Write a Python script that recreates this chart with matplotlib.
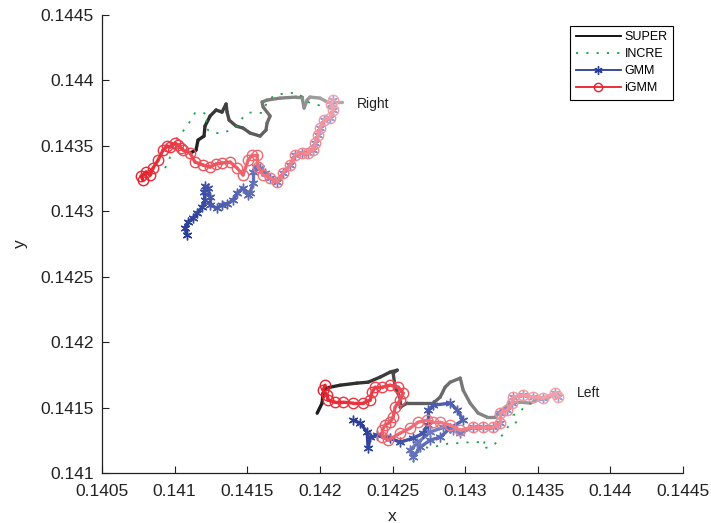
import numpy as np
import matplotlib
matplotlib.use("Agg")
import matplotlib.pyplot as plt
from matplotlib.lines import Line2D
from matplotlib.ticker import FormatStrFormatter

plt.rcParams['font.family'] = ['Liberation Sans', 'DejaVu Sans']

# ---------------- data ----------------
# Upper trajectory ("Right")
super_r_x = [0.141106, 0.141147, 0.141161, 0.141202, 0.141209, 0.141244, 0.141285, 0.141326, 0.141354, 0.141361,
             0.141375, 0.141423, 0.141471, 0.141519, 0.141588, 0.141629, 0.141636, 0.141657, 0.141609, 0.141602,
             0.141636, 0.141726, 0.141836, 0.141877, 0.141891, 0.141912, 0.141932, 0.142001, 0.142050, 0.142112, 0.142153]
super_r_y = [0.143445, 0.143468, 0.143544, 0.143575, 0.143651, 0.143728, 0.143774, 0.143758, 0.143820, 0.143758,
             0.143697, 0.143651, 0.143636, 0.143598, 0.143575, 0.143621, 0.143674, 0.143728, 0.143797, 0.143835,
             0.143850, 0.143865, 0.143873, 0.143873, 0.143789, 0.143850, 0.143873, 0.143865, 0.143835, 0.143835, 0.143835]

incre_r_x = [0.140934, 0.140955, 0.140968, 0.140996, 0.141017, 0.141051, 0.141085, 0.141113, 0.141140, 0.141189,
             0.141230, 0.141216, 0.141209, 0.141244, 0.141292, 0.141333, 0.141382, 0.141430, 0.141471, 0.141506,
             0.141540, 0.141602, 0.141643, 0.141691, 0.141774, 0.141850, 0.141898, 0.141932, 0.141988, 0.142050, 0.142091]
incre_r_y = [0.143330, 0.143376, 0.143414, 0.143491, 0.143560, 0.143606, 0.143644, 0.143705, 0.143751, 0.143758,
             0.143735, 0.143682, 0.143644, 0.143606, 0.143598, 0.143598, 0.143621, 0.143651, 0.143720, 0.143751,
             0.143758, 0.143751, 0.143850, 0.143888, 0.143904, 0.143904, 0.143850, 0.143827, 0.143812, 0.143789, 0.143804]

igmm_r_x = [0.140782, 0.140769, 0.140803, 0.140831, 0.140851, 0.140886, 0.140920, 0.140948, 0.140968, 0.141003,
            0.141023, 0.141044, 0.141058, 0.141106, 0.141140, 0.141196, 0.141244, 0.141285, 0.141326, 0.141382,
            0.141430, 0.141471, 0.141506, 0.141533, 0.141567, 0.141574, 0.141609, 0.141657, 0.141705, 0.141747,
            0.141795, 0.141829, 0.141877, 0.141919, 0.141953, 0.141967, 0.141988, 0.142001, 0.142029, 0.142070,
            0.142091, 0.142077, 0.142091]
igmm_r_y = [0.143239, 0.143269, 0.143300, 0.143277, 0.143330, 0.143391, 0.143468, 0.143499, 0.143491, 0.143521,
            0.143506, 0.143483, 0.143468, 0.143445, 0.143376, 0.143353, 0.143338, 0.143361, 0.143369, 0.143376,
            0.143330, 0.143277, 0.143391, 0.143430, 0.143430, 0.143338, 0.143277, 0.143254, 0.143223, 0.143292,
            0.143353, 0.143430, 0.143445, 0.143445, 0.143468, 0.143521, 0.143583, 0.143636, 0.143697, 0.143713,
            0.143774, 0.143820, 0.143850]

gmm_r_x = [0.141085, 0.141072, 0.141092, 0.141127, 0.141154, 0.141189, 0.141209, 0.141202, 0.141209, 0.141230,
           0.141244, 0.141244, 0.141292, 0.141326, 0.141361, 0.141402, 0.141430, 0.141471, 0.141506, 0.141519,
           0.141540, 0.141540, 0.141561, 0.141588, 0.141623, 0.141657, 0.141705, 0.141747, 0.141795, 0.141829,
           0.141877, 0.141919, 0.141953, 0.141967, 0.141988, 0.142001, 0.142029, 0.142070, 0.142091, 0.142077, 0.142091]
gmm_r_y = [0.142818, 0.142872, 0.142917, 0.142948, 0.142986, 0.143032, 0.143086, 0.143147, 0.143193, 0.143177,
           0.143109, 0.143047, 0.143025, 0.143047, 0.143055, 0.143086, 0.143139, 0.143177, 0.143124, 0.143139,
           0.143216, 0.143300, 0.143338, 0.143330, 0.143292, 0.143254, 0.143223, 0.143292, 0.143353, 0.143430,
           0.143445, 0.143445, 0.143468, 0.143521, 0.143583, 0.143636, 0.143697, 0.143713, 0.143774, 0.143820, 0.143850]

# Lower trajectory ("Left")
super_l_x = [0.141981, 0.142015, 0.142022, 0.142036, 0.142139, 0.142256, 0.142332, 0.142415, 0.142483, 0.142532,
             0.142504, 0.142518, 0.142552, 0.142552, 0.142601, 0.142690, 0.142780, 0.142828, 0.142862, 0.142897,
             0.142966, 0.142986, 0.143034, 0.143090, 0.143151, 0.143207, 0.143227, 0.143310, 0.143379, 0.143448,
             0.143496, 0.143565, 0.143606, 0.143654]
super_l_y = [0.141457, 0.141534, 0.141610, 0.141648, 0.141671, 0.141687, 0.141694, 0.141733, 0.141771, 0.141786,
             0.141763, 0.141656, 0.141572, 0.141503, 0.141534, 0.141534, 0.141534, 0.141580, 0.141656, 0.141694,
             0.141725, 0.141633, 0.141534, 0.141457, 0.141427, 0.141427, 0.141457, 0.141534, 0.141541, 0.141534,
             0.141557, 0.141572, 0.141595, 0.141595]

incre_l_x = [0.142642, 0.142676, 0.142725, 0.142759, 0.142828, 0.142897, 0.142966, 0.143034, 0.143103, 0.143138,
             0.143117, 0.143172, 0.143220, 0.143255, 0.143289, 0.143310, 0.143358, 0.143331, 0.143379, 0.143399,
             0.143448, 0.143482]
incre_l_y = [0.141083, 0.141159, 0.141197, 0.141190, 0.141213, 0.141228, 0.141228, 0.141236, 0.141236, 0.141251,
             0.141190, 0.141197, 0.141236, 0.141289, 0.141343, 0.141381, 0.141388, 0.141442, 0.141465, 0.141496,
             0.141534, 0.141534]

igmm_l_x = [0.142036, 0.142022, 0.142050, 0.142056, 0.142105, 0.142160, 0.142229, 0.142298, 0.142346, 0.142359,
            0.142380, 0.142428, 0.142483, 0.142539, 0.142573, 0.142552, 0.142518, 0.142504, 0.142483, 0.142449,
            0.142428, 0.142428, 0.142470, 0.142552, 0.142621, 0.142676, 0.142738, 0.142780, 0.142828, 0.142897,
            0.142966, 0.143055, 0.143124, 0.143193, 0.143241, 0.143241, 0.143289, 0.143324, 0.143331, 0.143399,
            0.143468, 0.143537, 0.143620, 0.143640]
igmm_l_y = [0.141671, 0.141633, 0.141595, 0.141557, 0.141541, 0.141541, 0.141534, 0.141534, 0.141557, 0.141618,
            0.141656, 0.141656, 0.141671, 0.141656, 0.141610, 0.141557, 0.141503, 0.141427, 0.141388, 0.141366,
            0.141327, 0.141274, 0.141251, 0.141304, 0.141343, 0.141388, 0.141404, 0.141388, 0.141388, 0.141366,
            0.141327, 0.141350, 0.141350, 0.141350, 0.141381, 0.141457, 0.141480, 0.141534, 0.141580, 0.141595,
            0.141580, 0.141572, 0.141610, 0.141580]

gmm_l_x = [0.142229, 0.142277, 0.142325, 0.142332, 0.142346, 0.142394, 0.142483, 0.142552, 0.142642, 0.142711,
           0.142745, 0.142745, 0.142780, 0.142897, 0.142945, 0.142986, 0.142897, 0.142828, 0.142759, 0.142690,
           0.142642, 0.142621, 0.142669, 0.142759, 0.142848, 0.142917, 0.142966, 0.143055, 0.143124, 0.143193,
           0.143241, 0.143241, 0.143289, 0.143324, 0.143331, 0.143399, 0.143468, 0.143537, 0.143620, 0.143640]
gmm_l_y = [0.141404, 0.141381, 0.141312, 0.141190, 0.141274, 0.141289, 0.141266, 0.141236, 0.141266, 0.141304,
           0.141366, 0.141480, 0.141518, 0.141534, 0.141480, 0.141404, 0.141343, 0.141274, 0.141251, 0.141197,
           0.141121, 0.141174, 0.141228, 0.141312, 0.141350, 0.141327, 0.141304, 0.141350, 0.141350, 0.141350,
           0.141381, 0.141457, 0.141480, 0.141534, 0.141580, 0.141595, 0.141580, 0.141572, 0.141610, 0.141580]

series_names = ['SUPER', 'INCRE', 'GMM', 'iGMM']
x_ticks = [0.1405, 0.141, 0.1415, 0.142, 0.1425, 0.143, 0.1435, 0.144, 0.1445]
y_ticks = [0.141, 0.1415, 0.142, 0.1425, 0.143, 0.1435, 0.144, 0.1445]
annotations = [('Right', 0.142256, 0.143820), ('Left', 0.143771, 0.141610)]

# ---------------- drawing ----------------
fig = plt.figure(figsize=(7.11, 5.23), dpi=100)
ax = fig.add_axes([0.1435, 0.0956, 0.8172, 0.8757])


def mix(c0, c1, t):
    c0 = np.array(matplotlib.colors.to_rgb(c0))
    c1 = np.array(matplotlib.colors.to_rgb(c1))
    return tuple(c0 + (c1 - c0) * t)


def gradient_path(x, y, c0, c1, lw=2.2, marker=None, ms=7, mew=1.0, z=2):
    n = len(x)
    for i in range(n - 1):
        t = i / max(n - 2, 1)
        ax.plot(x[i:i + 2], y[i:i + 2], color=mix(c0, c1, t), lw=lw,
                solid_capstyle='round', zorder=z)
    if marker is not None:
        for i in range(n):
            t = i / max(n - 1, 1)
            ax.plot([x[i]], [y[i]], linestyle='none', marker=marker, ms=ms,
                    mfc='none', mec=mix(c0, c1, t), mew=mew, zorder=z + 0.5)


super_c = ('#1c1c1c', '#ababab')
gmm_c = ('#2a3c98', '#9aa4dc')
igmm_c = ('#e8202c', '#f4a4ac')
incre_c = '#1fa04a'

asterisk = (6, 2, 0)

for sx, sy in [(super_r_x, super_r_y), (super_l_x, super_l_y)]:
    gradient_path(sx, sy, *super_c, lw=2.4, z=2)
for sx, sy in [(incre_r_x, incre_r_y), (incre_l_x, incre_l_y)]:
    ax.plot(sx, sy, color=incre_c, lw=1.3, linestyle=(0, (1.2, 4.5)), zorder=2.2)
for sx, sy in [(gmm_r_x, gmm_r_y), (gmm_l_x, gmm_l_y)]:
    gradient_path(sx, sy, *gmm_c, lw=2.4, marker=asterisk, ms=7, mew=1.0, z=3)
for sx, sy in [(igmm_r_x, igmm_r_y), (igmm_l_x, igmm_l_y)]:
    gradient_path(sx, sy, *igmm_c, lw=2.4, marker='o', ms=7.5, mew=1.0, z=4)

for txt, tx, ty in annotations:
    ax.text(tx, ty, txt, fontsize=10, ha='left', va='center', color='#222222')

ax.set_xlim(x_ticks[0], x_ticks[-1])
ax.set_ylim(y_ticks[0], y_ticks[-1])
ax.set_xticks(x_ticks)
ax.set_yticks(y_ticks)
ax.xaxis.set_major_formatter(FormatStrFormatter('%g'))
ax.yaxis.set_major_formatter(FormatStrFormatter('%g'))
ax.tick_params(direction='in', labelsize=12.5, length=5, width=0.8, colors='#222222')
ax.tick_params(axis='x', pad=8)
ax.tick_params(axis='y', pad=6)
ax.spines['top'].set_visible(False)
ax.spines['right'].set_visible(False)
for s in ('left', 'bottom'):
    ax.spines[s].set_linewidth(0.9)
    ax.spines[s].set_color('#222222')
ax.set_xlabel('x', fontsize=12.5, labelpad=7, color='#222222')
ax.set_ylabel('y', fontsize=12.5, labelpad=9, color='#222222')

handles = [
    Line2D([], [], color='black', lw=1.3),
    Line2D([], [], color=incre_c, lw=1.3, linestyle=(0, (1.2, 4.5))),
    Line2D([], [], color='#2a3c98', lw=1.3, marker=asterisk, ms=6, mec='#2a3c98'),
    Line2D([], [], color='#e8202c', lw=1.3, marker='o', ms=6, mfc='none', mec='#e8202c'),
]
leg = ax.legend(handles, series_names, loc='upper right', fontsize=9, fancybox=False,
                edgecolor='black', framealpha=1, handlelength=3.6, handletextpad=0.3,
                borderpad=0.45, labelspacing=0.4, bbox_to_anchor=(0.994, 0.99))
leg.get_frame().set_linewidth(0.8)

fig.savefig('out.png', dpi=100)
